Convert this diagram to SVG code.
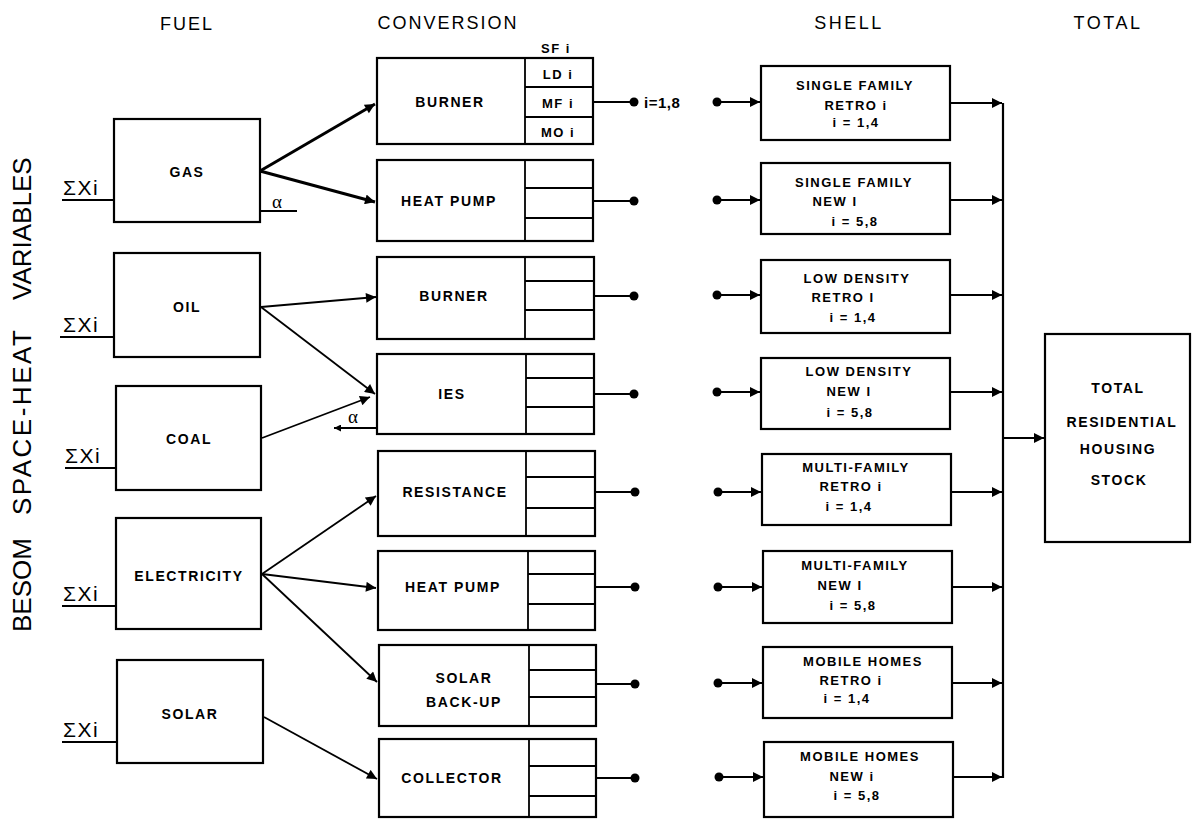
<svg xmlns="http://www.w3.org/2000/svg" width="1192" height="819" viewBox="0 0 1192 819">
<style>
.bx{fill:#fff;stroke:#000;stroke-width:2.2}
.ln{fill:none;stroke:#000;stroke-width:1.8}
.thk{fill:none;stroke:#000;stroke-width:3}
.dot{fill:#000}
.hd{font-family:"Liberation Sans",Arial,sans-serif;font-size:18px;letter-spacing:2px;text-anchor:middle;fill:#000}
.lb{font-family:"Liberation Sans",Arial,sans-serif;font-size:14px;font-weight:bold;letter-spacing:1.6px;text-anchor:middle;fill:#000}
.sm{font-family:"Liberation Sans",Arial,sans-serif;font-size:13px;font-weight:bold;letter-spacing:1.5px;text-anchor:middle;fill:#000}
.sx{font-family:"Liberation Sans",Arial,sans-serif;font-size:21px;letter-spacing:1.5px;fill:#000}
.al{font-family:"Liberation Serif","Times New Roman",serif;font-size:19px;fill:#000}
</style>
<defs>
<marker id="ah" viewBox="0 0 10 10" refX="10" refY="5" markerWidth="11" markerHeight="10" markerUnits="userSpaceOnUse" orient="auto"><path d="M0,0 L10,5 L0,10 z" fill="#000"/></marker>
<marker id="ahs" viewBox="0 0 10 10" refX="10" refY="5" markerWidth="9" markerHeight="7" markerUnits="userSpaceOnUse" orient="auto"><path d="M0,0 L10,5 L0,10 z" fill="#000"/></marker>
</defs>
<rect width="1192" height="819" fill="#fff"/>

<!-- headers -->
<text class="hd" x="187" y="30">FUEL</text>
<text class="hd" x="448" y="29">CONVERSION</text>
<text class="hd" x="849" y="29" style="letter-spacing:2.5px">SHELL</text>
<text class="hd" x="1108" y="29" style="letter-spacing:2.5px">TOTAL</text>
<text font-family="Liberation Sans,Arial,sans-serif" font-size="26" transform="translate(31,632) rotate(-90)"><tspan x="0" y="0">BESOM</tspan><tspan x="117" y="0" letter-spacing="2.5">SPACE-HEAT</tspan><tspan x="332" y="0">VARIABLES</tspan></text>

<!-- fuel nodes -->
<g id="gas"><rect class="bx" x="114" y="119" width="146" height="103"/><text class="lb" x="187" y="177">GAS</text><text class="sx" x="63" y="195">ΣXi</text></g>
<g id="oil"><rect class="bx" x="114" y="253" width="146" height="104"/><text class="lb" x="187" y="312">OIL</text><text class="sx" x="63" y="332">ΣXi</text></g>
<g id="coal"><rect class="bx" x="116" y="386" width="145" height="104"/><text class="lb" x="189" y="444">COAL</text><text class="sx" x="65" y="463">ΣXi</text></g>
<g id="electricity"><rect class="bx" x="116" y="518" width="145" height="111"/><text class="lb" x="189" y="581">ELECTRICITY</text><text class="sx" x="63" y="601">ΣXi</text></g>
<g id="solar"><rect class="bx" x="117" y="660" width="146" height="103"/><text class="lb" x="190" y="719">SOLAR</text><text class="sx" x="63" y="737">ΣXi</text></g>

<!-- conversion nodes -->
<g id="conv-burner-gas"><rect class="bx" x="377" y="58" width="216" height="86"/><path class="ln" d="M525,58V144M525,87H593M525,117H593"/><text class="lb" x="450" y="107">BURNER</text>
<text class="sm" x="556" y="53">SF i</text><text class="sm" x="558" y="79">LD i</text><text class="sm" x="558" y="108">MF i</text><text class="sm" x="558" y="137">MO i</text></g>
<g id="conv-heatpump-gas"><rect class="bx" x="377" y="160" width="216" height="81"/><path class="ln" d="M525,160V241M525,188H593M525,218H593"/><text class="lb" x="449" y="206">HEAT PUMP</text></g>
<g id="conv-burner-oil"><rect class="bx" x="377" y="257" width="217" height="82"/><path class="ln" d="M525,257V339M525,281H594M525,310H594"/><text class="lb" x="454" y="301">BURNER</text></g>
<g id="conv-ies"><rect class="bx" x="377" y="354" width="217" height="80"/><path class="ln" d="M526,354V434M526,378H594M526,407H594"/><text class="lb" x="452" y="399">IES</text></g>
<g id="conv-resistance"><rect class="bx" x="378" y="451" width="217" height="85"/><path class="ln" d="M526,451V536M526,477H595M526,508H595"/><text class="lb" x="455" y="497">RESISTANCE</text></g>
<g id="conv-heatpump-elec"><rect class="bx" x="378" y="551" width="217" height="79"/><path class="ln" d="M528,551V630M528,574H595M528,604H595"/><text class="lb" x="453" y="592">HEAT PUMP</text></g>
<g id="conv-solar-backup"><rect class="bx" x="379" y="645" width="217" height="81"/><path class="ln" d="M529,645V726M529,670H596M529,697H596"/><text class="lb" x="464" y="683">SOLAR</text><text class="lb" x="464" y="707">BACK-UP</text></g>
<g id="conv-collector"><rect class="bx" x="379" y="739" width="217" height="78"/><path class="ln" d="M529,739V817M529,766H596M529,796H596"/><text class="lb" x="452" y="783">COLLECTOR</text></g>

<!-- shell nodes -->
<g id="shell-sf-retro"><rect class="bx" x="761" y="66" width="189" height="74"/><text class="sm" x="855" y="90">SINGLE FAMILY</text><text class="sm" x="856" y="110">RETRO i</text><text class="sm" x="856" y="127">i = 1,4</text></g>
<g id="shell-sf-new"><rect class="bx" x="761" y="163" width="189" height="71"/><text class="sm" x="854" y="187">SINGLE FAMILY</text><text class="sm" x="835" y="206">NEW I</text><text class="sm" x="855" y="226">i = 5,8</text></g>
<g id="shell-ld-retro"><rect class="bx" x="761" y="260" width="189" height="73"/><text class="sm" x="857" y="283">LOW DENSITY</text><text class="sm" x="843" y="302">RETRO I</text><text class="sm" x="853" y="322">i = 1,4</text></g>
<g id="shell-ld-new"><rect class="bx" x="761" y="358" width="189" height="71"/><text class="sm" x="859" y="376">LOW DENSITY</text><text class="sm" x="849" y="396">NEW I</text><text class="sm" x="850" y="417">i = 5,8</text></g>
<g id="shell-mf-retro"><rect class="bx" x="762" y="454" width="189" height="71"/><text class="sm" x="856" y="472">MULTI-FAMILY</text><text class="sm" x="851" y="491">RETRO i</text><text class="sm" x="849" y="511">i = 1,4</text></g>
<g id="shell-mf-new"><rect class="bx" x="763" y="551" width="189" height="72"/><text class="sm" x="855" y="570">MULTI-FAMILY</text><text class="sm" x="840" y="590">NEW I</text><text class="sm" x="853" y="610">i = 5,8</text></g>
<g id="shell-mh-retro"><rect class="bx" x="763" y="647" width="189" height="71"/><text class="sm" x="863" y="666">MOBILE HOMES</text><text class="sm" x="851" y="685">RETRO i</text><text class="sm" x="847" y="703">i = 1,4</text></g>
<g id="shell-mh-new"><rect class="bx" x="764" y="742" width="189" height="75"/><text class="sm" x="860" y="761">MOBILE HOMES</text><text class="sm" x="852" y="781">NEW i</text><text class="sm" x="857" y="800">i = 5,8</text></g>

<!-- total node -->
<g id="total"><rect class="bx" x="1045" y="334" width="145" height="208"/><text class="lb" x="1118" y="393">TOTAL</text><text class="lb" x="1122" y="427">RESIDENTIAL</text><text class="lb" x="1118" y="454">HOUSING</text><text class="lb" x="1119" y="485">STOCK</text></g>

<!-- connectors -->
<g id="connectors">
<path class="ln" d="M62,200H114M60,337H114M65,468H116M62,606H116M62,742H117"/>
<path class="ln" d="M260,211H297"/><text class="al" x="272" y="208">α</text>
<path class="ln" d="M377,428H334" marker-end="url(#ahs)"/><text class="al" x="348" y="423">α</text>
<path class="thk" d="M260,171L375,104" marker-end="url(#ah)"/>
<path class="thk" d="M260,171L375,202" marker-end="url(#ah)"/>
<path class="ln" d="M261,307L376,297" marker-end="url(#ah)"/>
<path class="ln" d="M261,307L375,394" marker-end="url(#ah)"/>
<path class="ln" d="M262,438L370,397" marker-end="url(#ah)"/>
<path class="ln" d="M262,574L376,496" marker-end="url(#ah)"/>
<path class="ln" d="M262,574L376,588" marker-end="url(#ah)"/>
<path class="ln" d="M262,574L377,682" marker-end="url(#ah)"/>
<path class="ln" d="M264,717L377,779" marker-end="url(#ah)"/>
<path class="ln" d="M593,102H634M593,201H634M594,296H634M594,394H634M595,492H635M595,587H635M596,684H635M596,778H635"/>
<g class="dot"><circle cx="634" cy="102" r="4.5"/><circle cx="634" cy="201" r="4.5"/><circle cx="634" cy="296" r="4.5"/><circle cx="634" cy="394" r="4.5"/><circle cx="635" cy="492" r="4.5"/><circle cx="635" cy="587" r="4.5"/><circle cx="635" cy="684" r="4.5"/><circle cx="635" cy="778" r="4.5"/></g>
<text class="lb" x="644" y="108" style="text-anchor:start;letter-spacing:0.5px;font-size:15px">i=1,8</text>
<g class="dot"><circle cx="717" cy="102" r="4.5"/><circle cx="717" cy="200" r="4.5"/><circle cx="717" cy="295" r="4.5"/><circle cx="717" cy="392" r="4.5"/><circle cx="718" cy="492" r="4.5"/><circle cx="718" cy="587" r="4.5"/><circle cx="718" cy="683" r="4.5"/><circle cx="719" cy="777" r="4.5"/></g>
<path class="ln" d="M717,102H760" marker-end="url(#ah)"/>
<path class="ln" d="M717,200H760" marker-end="url(#ah)"/>
<path class="ln" d="M717,295H760" marker-end="url(#ah)"/>
<path class="ln" d="M717,392H760" marker-end="url(#ah)"/>
<path class="ln" d="M718,492H761" marker-end="url(#ah)"/>
<path class="ln" d="M718,587H762" marker-end="url(#ah)"/>
<path class="ln" d="M718,683H762" marker-end="url(#ah)"/>
<path class="ln" d="M719,777H763" marker-end="url(#ah)"/>
<path class="ln" d="M950,103H1002" marker-end="url(#ah)"/>
<path class="ln" d="M950,200H1002" marker-end="url(#ah)"/>
<path class="ln" d="M950,295H1002" marker-end="url(#ah)"/>
<path class="ln" d="M950,392H1002" marker-end="url(#ah)"/>
<path class="ln" d="M951,492H1002" marker-end="url(#ah)"/>
<path class="ln" d="M952,587H1002" marker-end="url(#ah)"/>
<path class="ln" d="M952,683H1002" marker-end="url(#ah)"/>
<path class="ln" d="M953,777H1002" marker-end="url(#ah)"/>
<path class="ln" d="M1003,103V778" style="stroke-width:2.2"/>
<path class="ln" d="M1003,438H1044" marker-end="url(#ah)"/>
</g>
</svg>
